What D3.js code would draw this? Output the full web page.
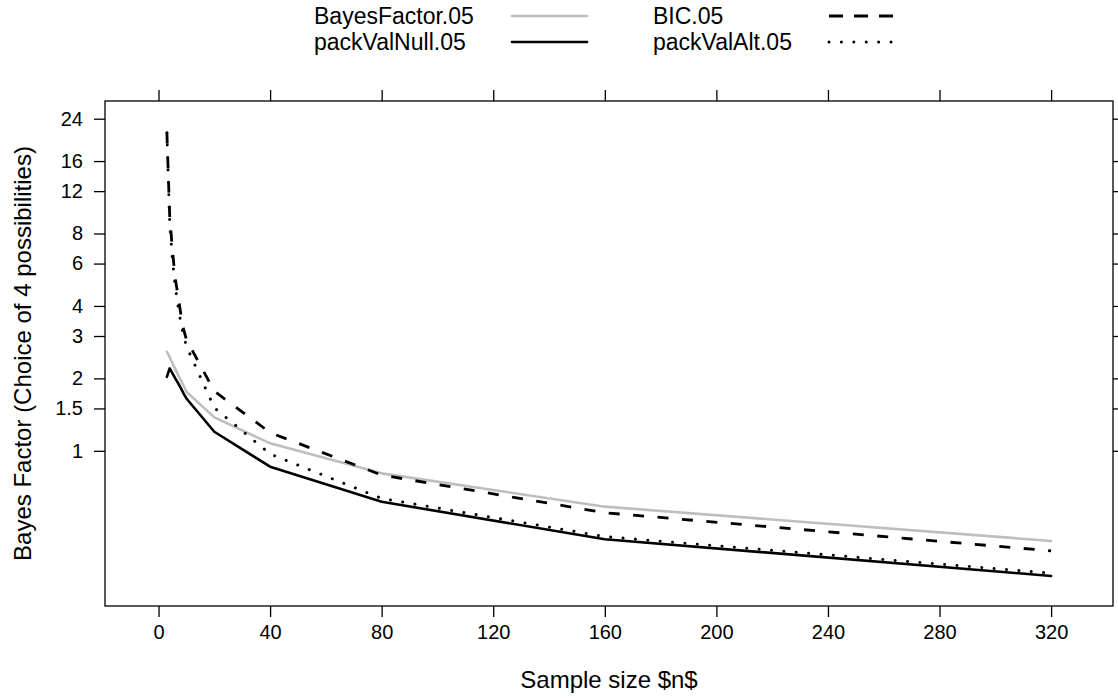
<!DOCTYPE html>
<html><head><meta charset="utf-8">
<script src="https://cdn.jsdelivr.net/npm/d3@7"></script>
<style>
body{margin:0;background:#fff}
svg{display:block}
text{font-family:"Liberation Sans",Arial,Helvetica,sans-serif;fill:#000}
</style>
</head><body>
<svg id="chart" width="1118" height="698"></svg>
<script>
// ---- data ----
const sampleSizes    = [3, 4, 5, 6, 7, 8, 9, 10, 20, 40, 80, 160, 320];
const bayesFactor05  = [2.58, 2.45, 2.31, 2.19, 2.07, 1.96, 1.86, 1.76, 1.377, 1.074, 0.806, 0.586, 0.422];
const bic05          = [21.0, 9.5, 6.8, 5.2, 4.4, 3.7, 3.2, 2.9, 1.77, 1.19, 0.793, 0.553, 0.384];
const packValNull05  = [2.03, 2.20, 2.10, 2.00, 1.91, 1.82, 1.73, 1.65, 1.20, 0.859, 0.614, 0.429, 0.302];
const packValAlt05   = [21.0, 8.8, 6.2, 4.8, 4.0, 3.4, 3.0, 2.72, 1.51, 0.97, 0.634, 0.440, 0.310];
const seriesNames    = ["BayesFactor.05", "BIC.05", "packValNull.05", "packValAlt.05"];
const xTicks         = [0, 40, 80, 120, 160, 200, 240, 280, 320];
const yTicks         = [1, 1.5, 2, 3, 4, 6, 8, 12, 16, 24];
const yTickLabels    = ["1", "1.5", "2", "3", "4", "6", "8", "12", "16", "24"];
const xTitle = "Sample size $n$";
const yTitle = "Bayes Factor (Choice of 4 possibilities)";

// ---- layout ----
const svg = d3.select("#chart");
const L = 105, R = 1113, T = 101, B = 606;
const pad = 0.07;
const xExt = d3.extent(sampleSizes);
const xSpan = xExt[1] - xExt[0];
const x = d3.scaleLinear().domain([xExt[0] - pad * xSpan, xExt[1] + pad * xSpan]).range([L, R]);
const y = d3.scaleLog().domain([0.2265, 28.43]).range([B, T]);

const styles = [
  {stroke: "#bebebe", dash: null, legDash: null, cap: "round", w: 2.6},
  {stroke: "#000", dash: "11,13.5", legDash: "14,11", cap: "butt", w: 2.8},
  {stroke: "#000", dash: null, legDash: null, cap: "round", w: 2.6},
  {stroke: "#000", dash: "0.01,12.4", legDash: "0.01,12.4", cap: "round", w: 3}
];
const series = [bayesFactor05, bic05, packValNull05, packValAlt05];

// axes
const tickLen = 11;
const fs = 20;
const xAxisB = d3.axisBottom(x).tickValues(xTicks).tickSize(tickLen).tickPadding(8).tickSizeOuter(0);
const xAxisT = d3.axisTop(x).tickValues(xTicks).tickSize(tickLen).tickFormat("").tickSizeOuter(0);
const yAxisL = d3.axisLeft(y).tickValues(yTicks).tickSize(tickLen).tickPadding(11)
  .tickFormat((d, i) => yTickLabels[i]).tickSizeOuter(0);
const yAxisR = d3.axisRight(y).tickValues(yTicks).tickSize(tickLen).tickFormat("").tickSizeOuter(0);

function styleAxis(g) {
  g.select(".domain").remove();
  g.selectAll(".tick line").attr("stroke", "#000").attr("stroke-width", 1.3);
  g.selectAll(".tick text").attr("font-size", fs).attr("font-family", '"Liberation Sans",Arial,sans-serif').attr("fill", "#000");
}
svg.append("g").attr("transform", `translate(0,${B})`).call(xAxisB).call(styleAxis);
svg.append("g").attr("transform", `translate(0,${T})`).call(xAxisT).call(styleAxis);
svg.append("g").attr("transform", `translate(${L},0)`).call(yAxisL).call(styleAxis);
svg.append("g").attr("transform", `translate(${R},0)`).call(yAxisR).call(styleAxis);

// lines
const line = d3.line().x((d, i) => x(sampleSizes[i])).y(d => y(d));
series.forEach((s, k) => {
  const st = styles[k];
  svg.append("path").datum(s).attr("d", line).attr("fill", "none")
    .attr("stroke", st.stroke).attr("stroke-width", st.w)
    .attr("stroke-linecap", st.cap).attr("stroke-linejoin", "round")
    .attr("stroke-dasharray", st.dash);
});

// frame
svg.append("rect").attr("x", L).attr("y", T).attr("width", R - L).attr("height", B - T)
  .attr("fill", "none").attr("stroke", "#000").attr("stroke-width", 1.3);

// titles
svg.append("text").attr("x", (L + R) / 2).attr("y", 688).attr("text-anchor", "middle")
  .attr("font-size", 24).text(xTitle);
svg.append("text").attr("transform", `translate(31,${(T + B) / 2}) rotate(-90)`)
  .attr("text-anchor", "middle").attr("font-size", 24).text(yTitle);

// legend
const legPos = [
  {tx: 314, lx1: 512, lx2: 587, cy: 16},
  {tx: 653, lx1: 829, lx2: 893, cy: 16},
  {tx: 314, lx1: 512, lx2: 587, cy: 42},
  {tx: 653, lx1: 829, lx2: 893, cy: 42}
];
seriesNames.forEach((name, k) => {
  const p = legPos[k], st = styles[k];
  svg.append("text").attr("x", p.tx).attr("y", p.cy).attr("dy", "0.35em")
    .attr("font-size", 23).text(name);
  svg.append("line").attr("x1", p.lx1).attr("x2", p.lx2).attr("y1", p.cy).attr("y2", p.cy)
    .attr("stroke", st.stroke).attr("stroke-width", st.w)
    .attr("stroke-linecap", st.cap).attr("stroke-dasharray", st.legDash);
});
</script>
</body></html>
